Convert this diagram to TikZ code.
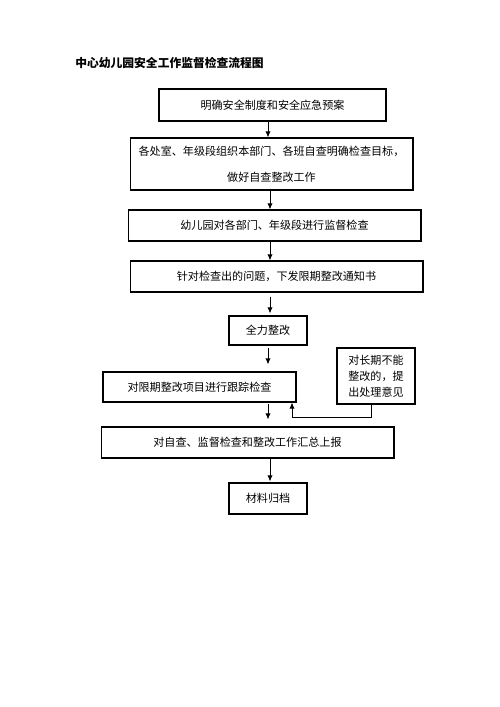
\documentclass[tikz,border=0pt]{standalone}
\usepackage{fontspec}
\setmainfont{Noto Sans CJK SC}
\newfontfamily\titlefont{Noto Sans CJK SC}
\usetikzlibrary{arrows.meta, positioning, calc}

\begin{document}
\begin{tikzpicture}[
        x=0.02cm, y=-0.02cm,
        step box/.style={rectangle, draw, line width=0.6pt, inner sep=1pt,
                         align=center, font=\fontsize{6.3}{8}\selectfont},
        arrow/.style={-{Latex[length=3.5pt, width=3pt]}, line width=0.5pt}
    ]
        \useasboundingbox (0,0) rectangle (500,707);

        % Title
        \node[anchor=west, inner sep=0pt, font=\titlefont\bfseries\fontsize{6.7}{8}\selectfont] (title) at (75,63)
            {中心幼儿园安全工作监督检查流程图};

        % Main chain
        \node[step box, minimum width=4.54cm, minimum height=0.64cm] (rules) at (272.5,105)
            {明确安全制度和安全应急预案};
        \node[step box, minimum width=5.66cm, minimum height=1.04cm] (self) at (271.5,164)
            {各处室、年级段组织本部门、各班自查明确检查目标，\\[7pt]做好自查整改工作};
        \node[step box, minimum width=5.86cm, minimum height=0.62cm] (inspect) at (274.5,225.5)
            {幼儿园对各部门、年级段进行监督检查};
        \node[step box, minimum width=5.86cm, minimum height=0.62cm] (notice) at (276.5,276.5)
            {针对检查出的问题，下发限期整改通知书};
        \node[step box, minimum width=1.56cm, minimum height=0.58cm] (fix) at (268,330.5)
            {全力整改};
        \node[step box, minimum width=3.86cm, minimum height=0.60cm] (track) at (199.5,387)
            {对限期整改项目进行跟踪检查};
        \node[step box, minimum width=5.86cm, minimum height=0.62cm] (report) at (247.5,442.5)
            {对自查、监督检查和整改工作汇总上报};
        \node[step box, minimum width=1.56cm, minimum height=0.62cm] (archive) at (268,498.5)
            {材料归档};

        % Side note for long-term problems
        \node[step box, minimum width=1.56cm, minimum height=1.12cm,
              font=\fontsize{6.3}{9}\selectfont] (longterm) at (376,376)
            {对长期不能\\整改的，提\\出处理意见};

        % Arrows down the chain
        \draw[arrow] (rules.south -| fix) -- (self.north -| fix);
        \draw[arrow] ([xshift=0.04cm]self.south -| fix) -- ([xshift=0.04cm]inspect.north -| fix);
        \draw[arrow] ([xshift=0.04cm]inspect.south -| fix) -- ([xshift=0.04cm]notice.north -| fix);
        \draw[arrow, shorten <=0.08cm, shorten >=0.04cm] ([xshift=0.04cm]notice.south -| fix) -- ([xshift=0.04cm]fix.north);
        \draw[arrow, shorten <=0.04cm, shorten >=0.14cm] (fix.south) -- (track.north -| fix);
        \draw[arrow, shorten <=0.02cm, shorten >=0.14cm] (track.south -| fix) -- (report.north -| fix);
        \draw[arrow, shorten >=0.02cm] ([xshift=0.04cm]report.south -| fix) -- ([xshift=0.04cm]archive.north);

        % Feedback from the side note
        \coordinate (back) at (292,417);
        \draw[arrow] ([xshift=-0.1cm]longterm.south) |- (back) -- (back |- track.south);
    \end{tikzpicture}
\end{document}
